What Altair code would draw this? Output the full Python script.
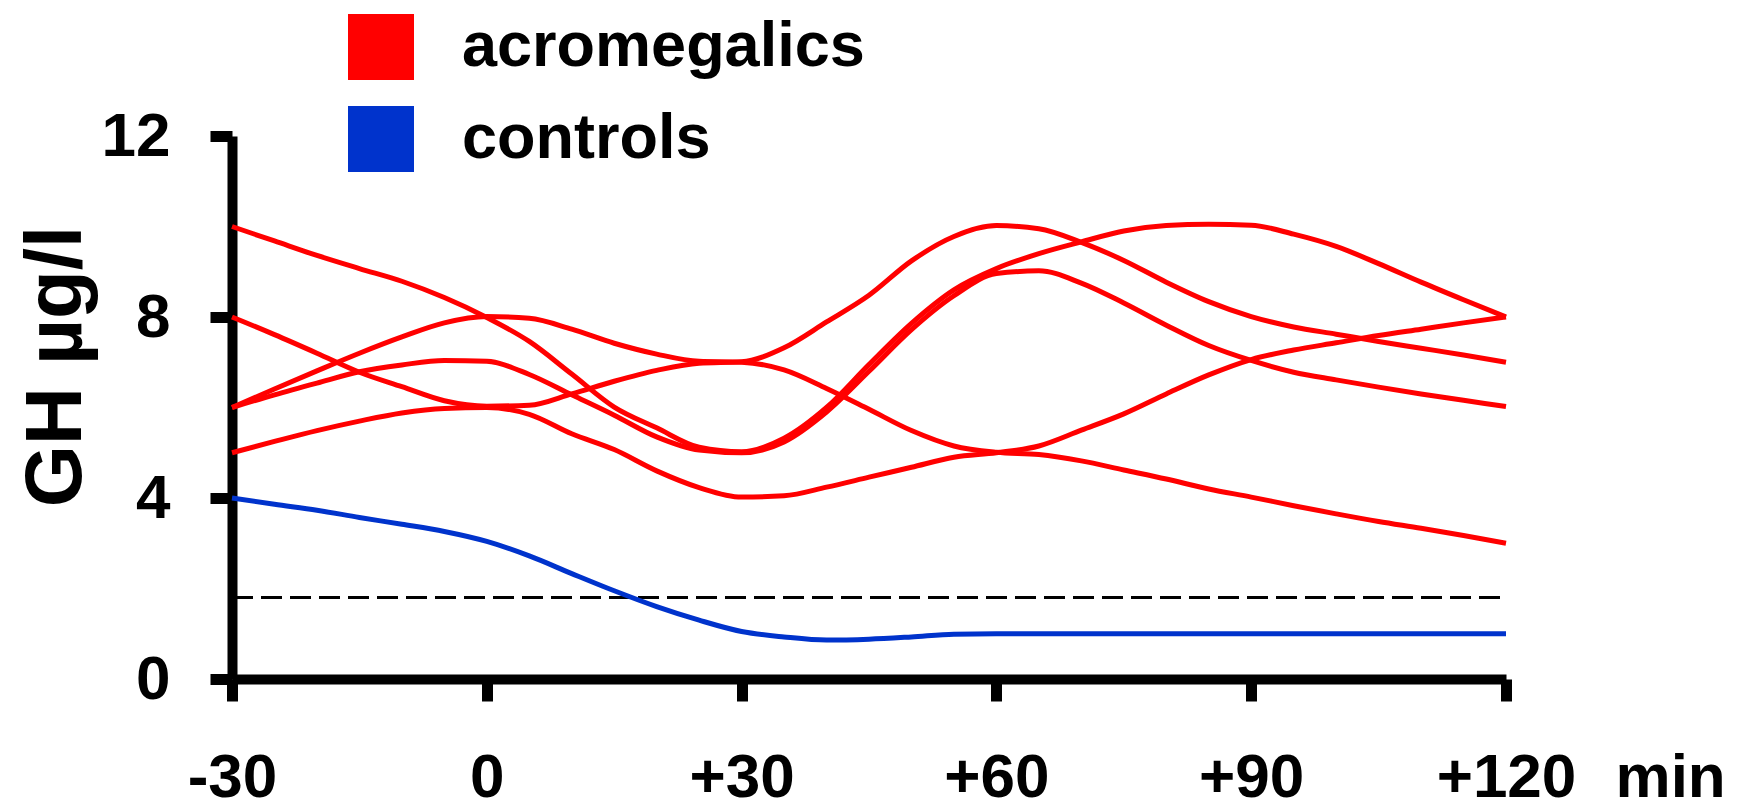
import json
import altair as alt
import pandas as pd

# time points (min)
times = [-30, -25, -20, -15, -10, -5, 0, 5, 10, 15, 20, 25, 30, 35, 40, 45, 50,
         55, 60, 65, 70, 75, 80, 85, 90, 95, 100, 105, 110, 115, 120]

# acromegalic patients (GH µg/l)
acro_1 = [10.0, 9.68, 9.36, 9.07, 8.79, 8.43, 7.99, 7.46, 6.74, 6.01, 5.55, 5.12, 5.02,
          5.32, 6.0, 6.95, 7.86, 8.6, 9.07, 9.4, 9.66, 9.9, 10.02, 10.05, 10.03, 9.83,
          9.56, 9.18, 8.77, 8.38, 8.0]
acro_2 = [8.0, 7.61, 7.2, 6.78, 6.46, 6.15, 6.03, 6.05, 6.3, 6.58, 6.82, 6.98, 7.01,
          7.32, 7.89, 8.48, 9.24, 9.78, 10.02, 9.95, 9.65, 9.25, 8.77, 8.34, 8.01, 7.78,
          7.62, 7.46, 7.31, 7.16, 7.0]
acro_3 = [6.0, 6.41, 6.81, 7.2, 7.56, 7.87, 8.01, 7.97, 7.73, 7.42, 7.18, 7.02, 7.0,
          6.83, 6.42, 5.96, 5.49, 5.15, 5.01, 4.96, 4.82, 4.62, 4.42, 4.2, 4.02, 3.83,
          3.65, 3.48, 3.33, 3.17, 3.0]
acro_4 = [6.0, 6.28, 6.54, 6.79, 6.94, 7.04, 7.02, 6.73, 6.28, 5.83, 5.35, 5.06, 5.0,
          5.24, 5.9, 6.8, 7.72, 8.47, 8.96, 9.02, 8.75, 8.31, 7.82, 7.37, 7.04, 6.78,
          6.61, 6.45, 6.3, 6.16, 6.02]
acro_5 = [5.0, 5.25, 5.49, 5.7, 5.88, 5.98, 6.0, 5.85, 5.42, 5.07, 4.6, 4.23, 4.02,
          4.05, 4.24, 4.46, 4.68, 4.9, 5.0, 5.15, 5.5, 5.86, 6.3, 6.72, 7.06, 7.27,
          7.43, 7.59, 7.73, 7.87, 8.0]
# controls (mean)
controls = [4.0, 3.86, 3.73, 3.57, 3.42, 3.26, 3.04, 2.72, 2.33, 1.95, 1.6, 1.3, 1.05,
            0.93, 0.86, 0.88, 0.93, 0.99, 1.0, 1.0, 1.0, 1.0, 1.0, 1.0, 1.0, 1.0,
            1.0, 1.0, 1.0, 1.0, 1.0]

threshold = 1.8

groups = ["acromegalics", "controls"]
group_colors = ["#ff0000", "#0033cc"]

x_ticks = [-30, 0, 30, 60, 90, 120]
x_tick_labels = ["-30", "0", "+30", "+60", "+90", "+120"]
y_ticks = [0, 4, 8, 12]

series = [("a1", "acromegalics", acro_1), ("a2", "acromegalics", acro_2),
          ("a3", "acromegalics", acro_3), ("a4", "acromegalics", acro_4),
          ("a5", "acromegalics", acro_5), ("c", "controls", controls)]
rows = []
for sid, grp, vals in series:
    for t, v in zip(times, vals):
        rows.append({"id": sid, "group": grp, "t": t, "gh": v})
df = pd.DataFrame(rows)

FONT = "Liberation Sans"
label_map = json.dumps({str(v): l for v, l in zip(x_ticks, x_tick_labels)})

# legend key: a square drawn as overlapping horizontal strokes (looks filled)
n_stripes = 12
stripe_w = 6.0
half = 33.0
ys = [(-half + stripe_w / 2 + k * (2 * half - stripe_w) / (n_stripes - 1)) / half
      for k in range(n_stripes)]
square_path = " ".join(f"M-1,{y:.4f}L1,{y:.4f}" for y in ys)

x_scale = alt.Scale(domain=[-30, 120], nice=False, zero=False)
y_scale = alt.Scale(domain=[0, 12], nice=False)
c_scale = alt.Scale(domain=groups, range=group_colors)

x_axis = alt.Axis(values=x_ticks, labelExpr=f"{label_map}[''+datum.value]",
                  grid=False, domainWidth=10, domainColor="black",
                  tickWidth=11, tickSize=22, tickColor="black",
                  labelFont=FONT, labelFontWeight="bold", labelFontSize=62,
                  labelColor="black", labelBaseline="alphabetic", labelPadding=95,
                  labelFlush=False, labelOverlap=False,
                  title="min", titleFont=FONT, titleFontWeight="bold", titleFontSize=62,
                  titleColor="black", titleAlign="left", titleBaseline="alphabetic",
                  titleAnchor="start", titleX=1383, titleY=117)
y_axis = alt.Axis(values=y_ticks, grid=False, domainWidth=10, domainColor="black",
                  tickWidth=11, tickSize=22, tickColor="black",
                  labelFont=FONT, labelFontWeight="bold", labelFontSize=62,
                  labelColor="black", labelPadding=40, labelFlush=False,
                  title="GH µg/l", titleFont=FONT, titleFontWeight="bold",
                  titleFontSize=80, titleColor="black", titleAngle=270,
                  titleAlign="center", titleBaseline="alphabetic",
                  titleX=-152, titleY=230)

legend = alt.Legend(title=None, orient="none", legendX=113, legendY=-125,
                    symbolType=square_path, symbolSize=4356,
                    symbolStrokeWidth=stripe_w, symbolOpacity=1,
                    labelFont=FONT, labelFontWeight="bold",
                    labelFontSize=63, labelColor="black", labelOffset=45,
                    labelLimit=2000, rowPadding=6, padding=0)

lines = alt.Chart(df).mark_line(strokeWidth=5, interpolate="monotone").encode(
    x=alt.X("t:Q", scale=x_scale, axis=x_axis),
    y=alt.Y("gh:Q", scale=y_scale, axis=y_axis),
    color=alt.Color("group:N", scale=c_scale, legend=legend),
    detail="id:N",
)

rule = alt.Chart(pd.DataFrame({"v": [threshold]})).mark_rule(
    color="black", strokeWidth=3, strokeDash=[21, 8]
).encode(x=alt.datum(-30), x2=alt.datum(120), y="v:Q")

chart = alt.layer(rule, lines).properties(
    width=1274, height=543,
    autosize=alt.AutoSizeParams(type="none"),
    padding={"left": 232, "top": 136, "right": 233, "bottom": 129},
    background="white",
).configure_view(stroke=None)

chart.save("out.html", embed_options={"renderer": "svg", "actions": False})
